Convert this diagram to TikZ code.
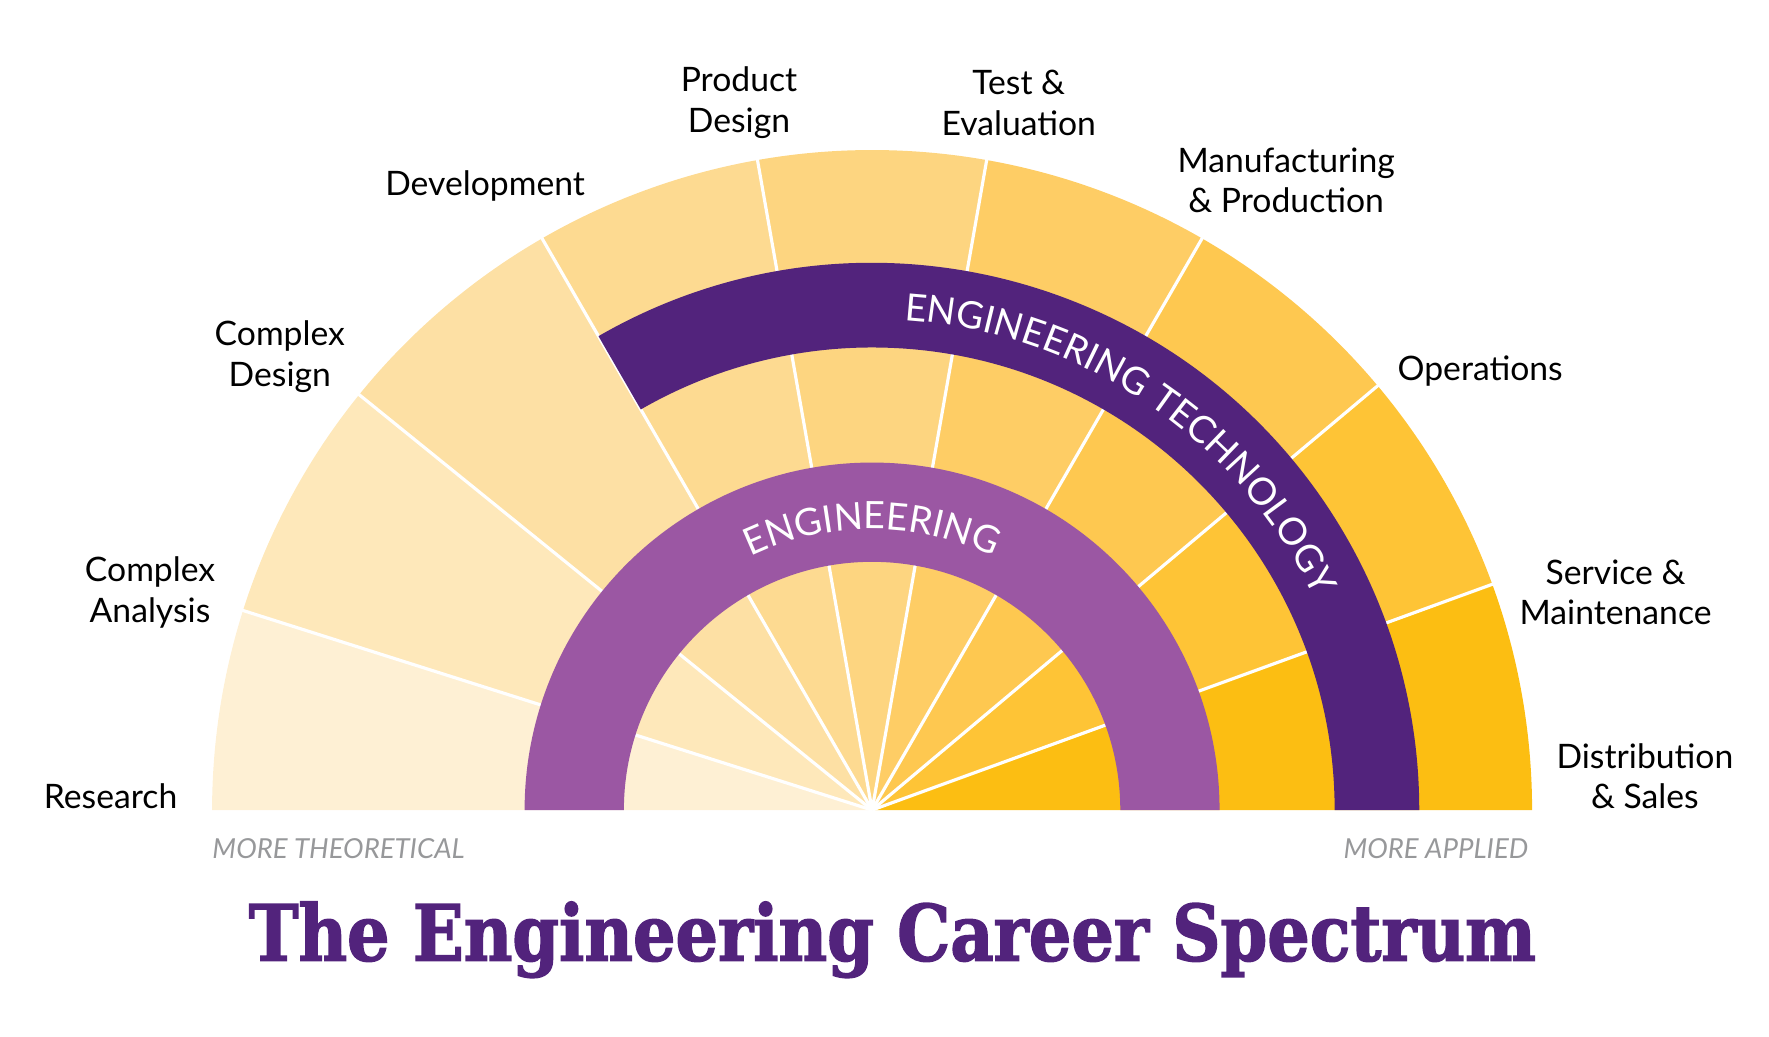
\documentclass[tikz,border=0pt]{standalone}
\usepackage{fontspec}
\setmainfont{Lato}
\newfontfamily\titlefont{DejaVu Serif}[FakeStretch=0.86, BoldFeatures={FakeBold=1.8}]
\usetikzlibrary{decorations.text}
\definecolor{engviolet}{RGB}{155,87,163}
\definecolor{techviolet}{RGB}{82,35,124}
\definecolor{sidegray}{RGB}{151,152,154}
\definecolor{secA}{RGB}{254,240,212}
\definecolor{secB}{RGB}{254,232,186}
\definecolor{secC}{RGB}{253,224,164}
\definecolor{secD}{RGB}{253,218,145}
\definecolor{secE}{RGB}{253,213,128}
\definecolor{secF}{RGB}{254,205,101}
\definecolor{secG}{RGB}{254,200,80}
\definecolor{secH}{RGB}{254,196,54}
\definecolor{secI}{RGB}{252,190,18}

\begin{document}
\begin{tikzpicture}[x=0.02cm, y=0.02cm,
      divider/.style={draw=white, line width=1.6pt},
      career/.style={align=center, font=\fontsize{17}{20.5}\selectfont, inner sep=0pt},
      side/.style={font=\fontsize{13.9}{16}\selectfont\itshape, text=sidegray, inner sep=0pt},
      ringtext/.style={decorate, decoration={text along path, text align=center, text color=white, text={|\fontsize{19}{21}\selectfont|#1}}}
    ]
      \useasboundingbox (-773,-201) rectangle (795,718);

      \fill[secA] (0,0) -- (180:585) arc[start angle=180, end angle=162.4, radius=585] -- cycle;
      \fill[secB] (0,0) -- (162.4:585) arc[start angle=162.4, end angle=141, radius=585] -- cycle;
      \fill[secC] (0,0) -- (141:585) arc[start angle=141, end angle=120, radius=585] -- cycle;
      \fill[secD] (0,0) -- (120:585) arc[start angle=120, end angle=100, radius=585] -- cycle;
      \fill[secE] (0,0) -- (100:585) arc[start angle=100, end angle=80, radius=585] -- cycle;
      \fill[secF] (0,0) -- (80:585) arc[start angle=80, end angle=60, radius=585] -- cycle;
      \fill[secG] (0,0) -- (60:585) arc[start angle=60, end angle=40, radius=585] -- cycle;
      \fill[secH] (0,0) -- (40:585) arc[start angle=40, end angle=20, radius=585] -- cycle;
      \fill[secI] (0,0) -- (20:585) arc[start angle=20, end angle=0, radius=585] -- cycle;

      \draw[divider] (0,0) -- (162.4:590);
      \draw[divider] (0,0) -- (141:590);
      \draw[divider] (0,0) -- (120:590);
      \draw[divider] (0,0) -- (100:590);
      \draw[divider] (0,0) -- (80:590);
      \draw[divider] (0,0) -- (60:590);
      \draw[divider] (0,0) -- (40:590);
      \draw[divider] (0,0) -- (20:590);

      \fill[engviolet] (180:308) arc[start angle=180, end angle=0, radius=308] -- (0:220) arc[start angle=0, end angle=180, radius=220] -- cycle;
      \fill[techviolet] (120:485) arc[start angle=120, end angle=0, radius=485] -- (0:410) arc[start angle=0, end angle=120, radius=410] -- cycle;

      \path[ringtext={ENGINEERING}] (150:249) arc[start angle=150, end angle=30, radius=249];
      \path[ringtext={ENGINEERING TECHNOLOGY}] (100:435) arc[start angle=100, end angle=12, radius=435];

      \node[career] (research) at (-675,12) {Research};
      \node[career] (analysis) at (-640,193) {Complex\\Analysis};
      \node[career] (cdesign) at (-525,402) {Complex\\Design};
      \node[career] (develop) at (-343,553) {Development};
      \node[career] (pdesign) at (-118,627) {Product\\Design};
      \node[career] (testeval) at (130,627) {Test \&\\Evaluation};
      \node[career] (manuf) at (367,558) {Manufacturing\\\& Production};
      \node[career] (ops) at (539,389) {Operations};
      \node[career] (service) at (659,193) {Service \&\\Maintenance};
      \node[career] (distrib) at (685,30) {Distribution\\\& Sales};

      \node[side, anchor=west] (theory) at (-585,-34) {MORE THEORETICAL};
      \node[side, anchor=east] (applied) at (582,-34) {MORE APPLIED};

      \node[text=techviolet, font=\titlefont\bfseries\fontsize{39.2}{44}\selectfont] (title) at (18,-115) {The Engineering Career Spectrum};
    \end{tikzpicture}
\end{document}
